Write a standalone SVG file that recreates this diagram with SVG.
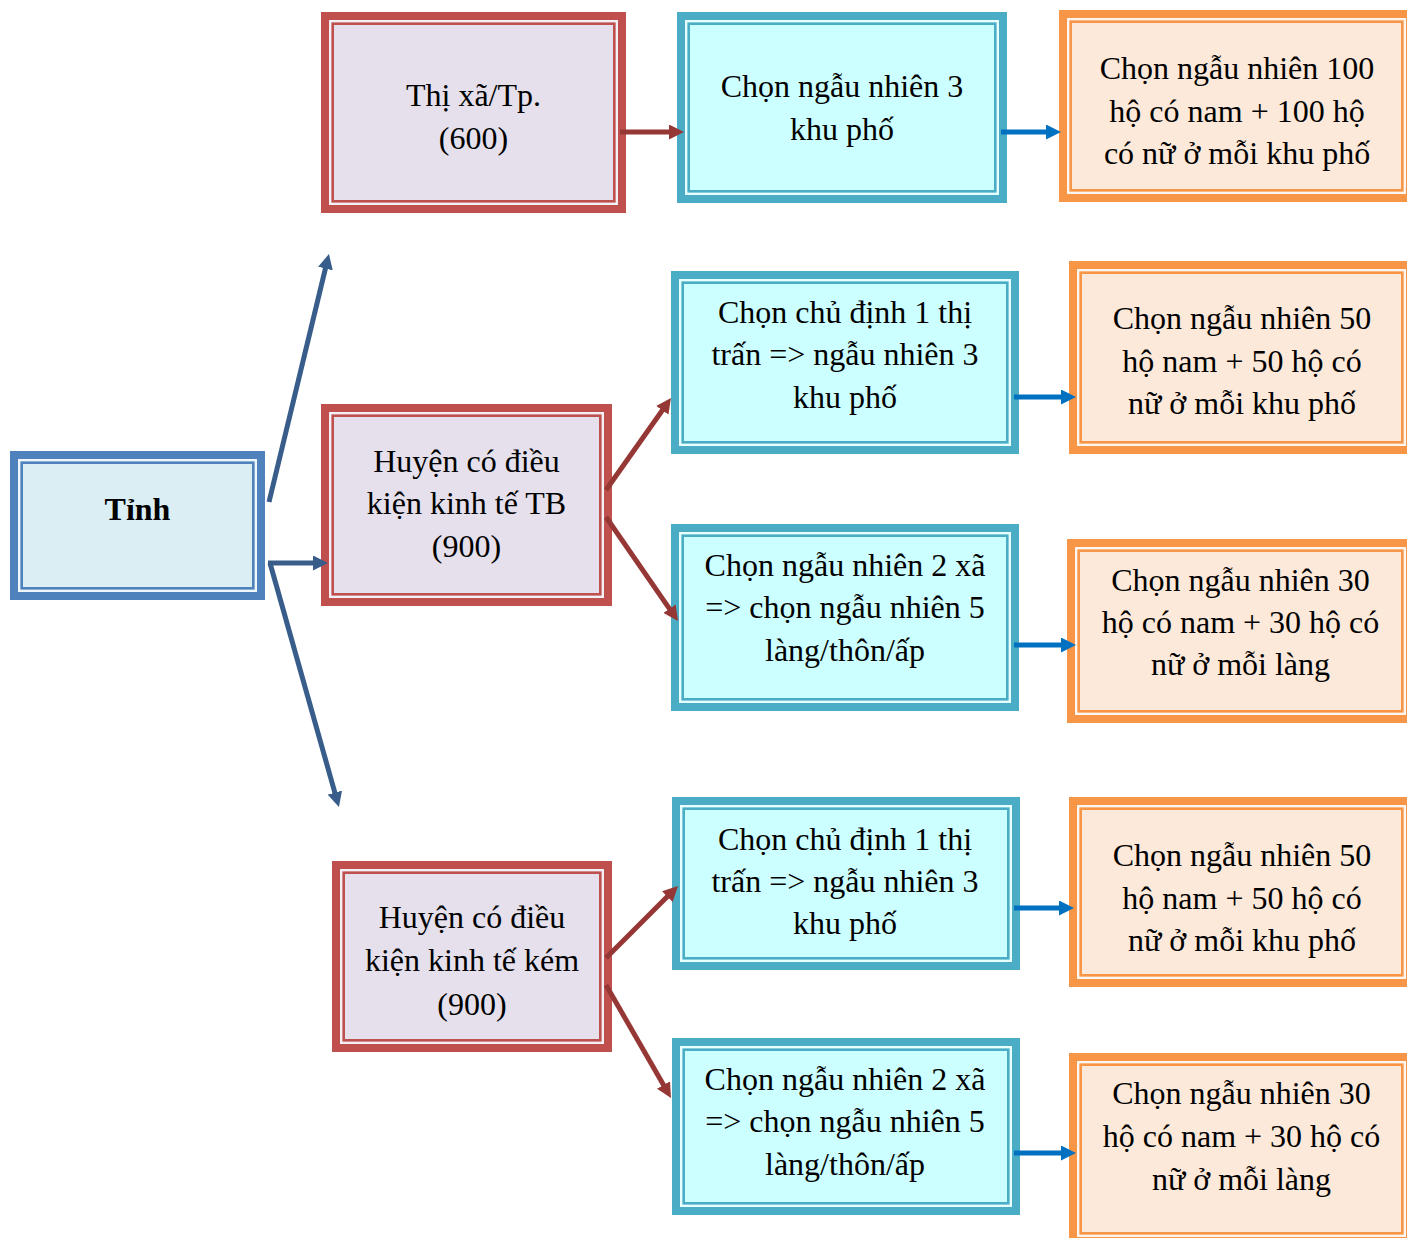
<svg xmlns="http://www.w3.org/2000/svg" width="1407" height="1238" viewBox="0 0 1407 1238">
<style>
.ob{stroke-width:8}
.st{fill:none;stroke:#ffffff;stroke-opacity:0.55;stroke-width:2.4}
.il{fill:none;stroke-width:2.6}
.blue .ob{stroke:#4F81BD;fill:#DBEEF4}
.blue .il{stroke:#4F81BD}
.red .ob{stroke:#C0504D;fill:#E5E0EC}
.red .il{stroke:#C0504D}
.cyan .ob{stroke:#4BACC6;fill:#CCFFFF}
.cyan .il{stroke:#4BACC6}
.orange .ob{stroke:#F79646;fill:#FDE9D9}
.orange .il{stroke:#F79646}
text{font-family:"Liberation Serif","Times New Roman",serif;font-size:32px;fill:#000;text-anchor:middle}
.b{font-weight:bold}
.cn line{fill:none;stroke-width:5}
.db{stroke:#385D8A}
.dr{stroke:#953735}
.lb{stroke:#0070C0}
</style>
<defs>
<marker id="ad" markerUnits="userSpaceOnUse" markerWidth="15" markerHeight="15" viewBox="0 0 15 15" refX="5" refY="7.5" orient="auto"><path d="M0,0 L15,7.5 L0,15 z" fill="#385D8A"/></marker>
<marker id="ar" markerUnits="userSpaceOnUse" markerWidth="15" markerHeight="15" viewBox="0 0 15 15" refX="5" refY="7.5" orient="auto"><path d="M0,0 L15,7.5 L0,15 z" fill="#953735"/></marker>
<marker id="al" markerUnits="userSpaceOnUse" markerWidth="15" markerHeight="15" viewBox="0 0 15 15" refX="5" refY="7.5" orient="auto"><path d="M0,0 L15,7.5 L0,15 z" fill="#0070C0"/></marker>
</defs>
<rect width="1407" height="1238" fill="#ffffff"/>

<g id="tinh" class="blue">
<rect class="ob" x="14" y="455" width="247" height="141"/>
<rect class="st" x="19.2" y="460.2" width="236.6" height="130.6"/>
<rect class="il" x="21.7" y="462.7" width="231.6" height="125.6"/>
<text class="b" x="137.5" y="520">Tỉnh</text>
</g>

<g id="thixa" class="red">
<rect class="ob" x="325" y="16" width="297" height="193"/>
<rect class="st" x="330.2" y="21.2" width="286.6" height="182.6"/>
<rect class="il" x="332.7" y="23.7" width="281.6" height="177.6"/>
<text x="473.5" y="106">Thị xã/Tp.</text>
<text x="473.5" y="149">(600)</text>
</g>

<g id="cyan1" class="cyan">
<rect class="ob" x="681" y="16" width="322" height="183"/>
<rect class="st" x="686.2" y="21.2" width="311.6" height="172.6"/>
<rect class="il" x="688.7" y="23.7" width="306.6" height="167.6"/>
<text x="842" y="97">Chọn ngẫu nhiên 3</text>
<text x="842" y="140">khu phố</text>
</g>

<g id="orange1" class="orange">
<rect class="ob" x="1063" y="14" width="347" height="184"/>
<rect class="st" x="1068.2" y="19.2" width="336.6" height="173.6"/>
<rect class="il" x="1070.7" y="21.7" width="331.6" height="168.6"/>
<text x="1237" y="79">Chọn ngẫu nhiên 100</text>
<text x="1237" y="122">hộ có nam + 100 hộ</text>
<text x="1237" y="164">có nữ ở mỗi khu phố</text>
</g>

<g id="huyentb" class="red">
<rect class="ob" x="325" y="408" width="283" height="194"/>
<rect class="st" x="330.2" y="413.2" width="272.6" height="183.6"/>
<rect class="il" x="332.7" y="415.7" width="267.6" height="178.6"/>
<text x="466.5" y="472">Huyện có điều</text>
<text x="466.5" y="514">kiện kinh tế TB</text>
<text x="466.5" y="557">(900)</text>
</g>

<g id="cyan2" class="cyan">
<rect class="ob" x="675" y="275" width="340" height="175"/>
<rect class="st" x="680.2" y="280.2" width="329.6" height="164.6"/>
<rect class="il" x="682.7" y="282.7" width="324.6" height="159.6"/>
<text x="845" y="323">Chọn chủ định 1 thị</text>
<text x="845" y="365">trấn =&gt; ngẫu nhiên 3</text>
<text x="845" y="408">khu phố</text>
</g>

<g id="orange2" class="orange">
<rect class="ob" x="1073" y="265" width="337" height="185"/>
<rect class="st" x="1078.2" y="270.2" width="326.6" height="174.6"/>
<rect class="il" x="1080.7" y="272.7" width="321.6" height="169.6"/>
<text x="1242" y="329">Chọn ngẫu nhiên 50</text>
<text x="1242" y="372">hộ nam + 50 hộ có</text>
<text x="1242" y="414">nữ ở mỗi khu phố</text>
</g>

<g id="cyan3" class="cyan">
<rect class="ob" x="675" y="528" width="340" height="179"/>
<rect class="st" x="680.2" y="533.2" width="329.6" height="168.6"/>
<rect class="il" x="682.7" y="535.7" width="324.6" height="163.6"/>
<text x="845" y="576">Chọn ngẫu nhiên 2 xã</text>
<text x="845" y="618">=&gt; chọn ngẫu nhiên 5</text>
<text x="845" y="661">làng/thôn/ấp</text>
</g>

<g id="orange3" class="orange">
<rect class="ob" x="1071" y="543" width="339" height="176"/>
<rect class="st" x="1076.2" y="548.2" width="328.6" height="165.6"/>
<rect class="il" x="1078.7" y="550.7" width="323.6" height="160.6"/>
<text x="1240.5" y="591">Chọn ngẫu nhiên 30</text>
<text x="1240.5" y="633">hộ có nam + 30 hộ có</text>
<text x="1240.5" y="675">nữ ở mỗi làng</text>
</g>

<g id="huyenkem" class="red">
<rect class="ob" x="336" y="865" width="272" height="183"/>
<rect class="st" x="341.2" y="870.2" width="261.6" height="172.6"/>
<rect class="il" x="343.7" y="872.7" width="256.6" height="167.6"/>
<text x="472" y="928">Huyện có điều</text>
<text x="472" y="971">kiện kinh tế kém</text>
<text x="472" y="1015">(900)</text>
</g>

<g id="cyan4" class="cyan">
<rect class="ob" x="676" y="801" width="340" height="165"/>
<rect class="st" x="681.2" y="806.2" width="329.6" height="154.6"/>
<rect class="il" x="683.7" y="808.7" width="324.6" height="149.6"/>
<text x="845" y="850">Chọn chủ định 1 thị</text>
<text x="845" y="892">trấn =&gt; ngẫu nhiên 3</text>
<text x="845" y="934">khu phố</text>
</g>

<g id="orange4" class="orange">
<rect class="ob" x="1073" y="801" width="337" height="182"/>
<rect class="st" x="1078.2" y="806.2" width="326.6" height="171.6"/>
<rect class="il" x="1080.7" y="808.7" width="321.6" height="166.6"/>
<text x="1242" y="866">Chọn ngẫu nhiên 50</text>
<text x="1242" y="909">hộ nam + 50 hộ có</text>
<text x="1242" y="951">nữ ở mỗi khu phố</text>
</g>

<g id="cyan5" class="cyan">
<rect class="ob" x="676" y="1042" width="340" height="169"/>
<rect class="st" x="681.2" y="1047.2" width="329.6" height="158.6"/>
<rect class="il" x="683.7" y="1049.7" width="324.6" height="153.6"/>
<text x="845" y="1090">Chọn ngẫu nhiên 2 xã</text>
<text x="845" y="1132">=&gt; chọn ngẫu nhiên 5</text>
<text x="845" y="1175">làng/thôn/ấp</text>
</g>

<g id="orange5" class="orange">
<rect class="ob" x="1073" y="1057" width="337" height="184"/>
<rect class="st" x="1078.2" y="1062.2" width="326.6" height="173.6"/>
<rect class="il" x="1080.7" y="1064.7" width="321.6" height="168.6"/>
<text x="1241.5" y="1104">Chọn ngẫu nhiên 30</text>
<text x="1241.5" y="1147">hộ có nam + 30 hộ có</text>
<text x="1241.5" y="1190">nữ ở mỗi làng</text>
</g>

<g id="connectors" class="cn">
<line class="db" x1="269" y1="502" x2="326.6" y2="263.7" marker-end="url(#ad)"/>
<line class="db" x1="268" y1="563" x2="318" y2="563" marker-end="url(#ad)"/>
<line class="db" x1="270" y1="563" x2="336.2" y2="797.4" marker-end="url(#ad)"/>
<line class="dr" x1="620" y1="132" x2="674" y2="132" marker-end="url(#ar)"/>
<line class="dr" x1="606" y1="490" x2="665.2" y2="406.2" marker-end="url(#ar)"/>
<line class="dr" x1="606" y1="517" x2="672.3" y2="612.8" marker-end="url(#ar)"/>
<line class="dr" x1="606" y1="958" x2="670.9" y2="893.1" marker-end="url(#ar)"/>
<line class="dr" x1="606" y1="985" x2="666" y2="1089.3" marker-end="url(#ar)"/>
<line class="lb" x1="1001" y1="132" x2="1051" y2="132" marker-end="url(#al)"/>
<line class="lb" x1="1014" y1="397" x2="1066" y2="397" marker-end="url(#al)"/>
<line class="lb" x1="1014" y1="645" x2="1066" y2="645" marker-end="url(#al)"/>
<line class="lb" x1="1014" y1="908" x2="1064" y2="908" marker-end="url(#al)"/>
<line class="lb" x1="1014" y1="1153" x2="1066" y2="1153" marker-end="url(#al)"/>
</g>
</svg>
